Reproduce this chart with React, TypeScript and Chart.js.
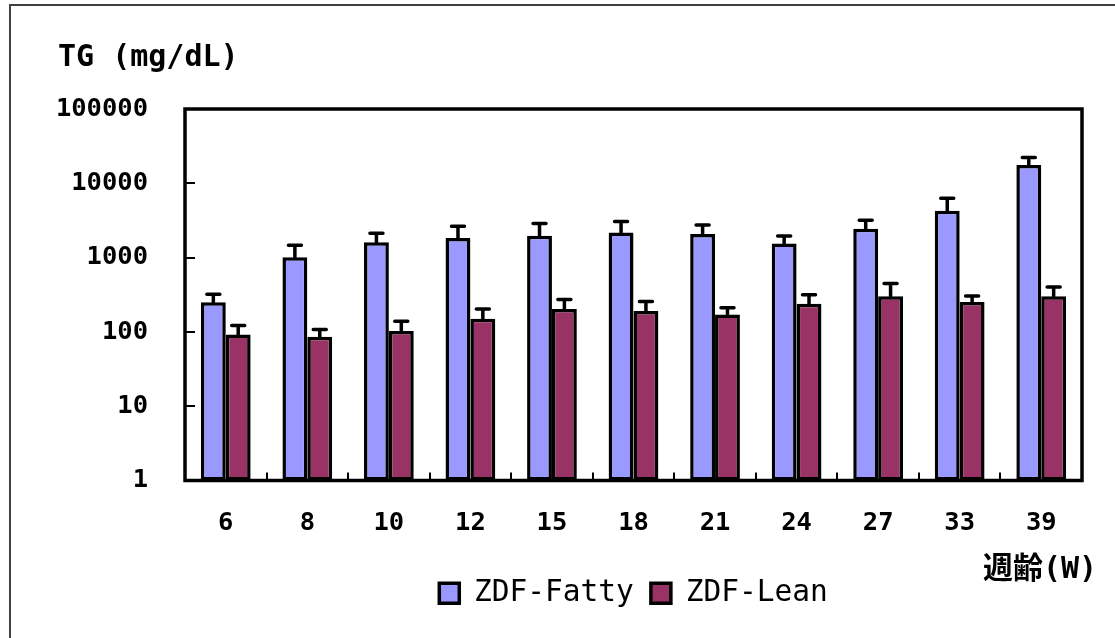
import React, { useEffect, useRef } from "react";
import { Chart, registerables } from "chart.js";

Chart.register(...registerables);

const weeks = ["6", "8", "10", "12", "15", "18", "21", "24", "27", "33", "39"];
const fattyMean = [251, 1012, 1612, 1830, 1970, 2180, 2070, 1550, 2440, 4260, 17600];
const fattySD = [70, 458, 518, 810, 900, 890, 670, 400, 730, 2040, 4700];
const leanMean = [92, 86, 103, 150, 203, 191, 171, 240, 302, 253, 302];
const leanSD = [30, 22, 36, 53, 69, 66, 41, 77, 146, 51, 100];
const yTicks = [1, 10, 100, 1000, 10000, 100000];
const seriesNames = ["ZDF-Fatty", "ZDF-Lean"];
const yTitle = "TG (mg/dL)";
const xTitle = "週齢(W)";

const FONT = "'DejaVu Sans Mono', 'Noto Sans CJK JP', monospace";

const errorBarPlugin = {
  id: "errorBars",
  afterDatasetsDraw(chart: any) {
    const ctx = chart.ctx;
    const yScale = chart.scales.y;
    const sds = [fattySD, leanSD];
    const means = [fattyMean, leanMean];
    ctx.save();
    ctx.strokeStyle = "#000";
    ctx.lineWidth = 3.5;
    ctx.lineCap = "round";
    chart.data.datasets.forEach((_ds: any, di: number) => {
      const meta = chart.getDatasetMeta(di);
      meta.data.forEach((bar: any, i: number) => {
        const top = yScale.getPixelForValue(means[di][i] + sds[di][i]);
        const x = bar.x;
        ctx.beginPath();
        ctx.moveTo(x, bar.y);
        ctx.lineTo(x, top);
        ctx.moveTo(x - 6.5, top);
        ctx.lineTo(x + 6.5, top);
        ctx.stroke();
      });
    });
    ctx.restore();
  },
};

const framePlugin = {
  id: "frame",
  beforeDraw(chart: any) {
    const ctx = chart.ctx;
    ctx.save();
    ctx.fillStyle = "#fff";
    ctx.fillRect(0, 0, chart.width, chart.height);
    ctx.strokeStyle = "#404040";
    ctx.lineWidth = 2;
    ctx.beginPath();
    ctx.moveTo(10, chart.height);
    ctx.lineTo(10, 5);
    ctx.lineTo(chart.width, 5);
    ctx.stroke();
    ctx.restore();
  },
  afterDraw(chart: any) {
    const ctx = chart.ctx;
    const a = chart.chartArea;
    const yScale = chart.scales.y;
    ctx.save();
    ctx.strokeStyle = "#000";
    ctx.lineWidth = 3.5;
    ctx.strokeRect(a.left, a.top, a.right - a.left, a.bottom - a.top);
    ctx.lineWidth = 2;
    ctx.beginPath();
    yTicks.forEach((v) => {
      if (v === yTicks[0] || v === yTicks[yTicks.length - 1]) return;
      const y = Math.round(yScale.getPixelForValue(v));
      ctx.moveTo(a.left, y);
      ctx.lineTo(a.left + 10, y);
    });
    const n = weeks.length;
    const w = (a.right - a.left) / n;
    for (let k = 1; k < n; k++) {
      const x = Math.round(a.left + k * w);
      ctx.moveTo(x, a.bottom);
      ctx.lineTo(x, a.bottom - 8);
    }
    ctx.stroke();
    ctx.fillStyle = "#000";
    ctx.textBaseline = "alphabetic";
    ctx.textAlign = "left";
    ctx.font = `bold 30px ${FONT}`;
    ctx.fillText(yTitle, 58, 66);
    ctx.fillText(xTitle, 983, 578);
    ctx.restore();
  },
};

export default function App() {
  const ref = useRef<HTMLCanvasElement | null>(null);
  useEffect(() => {
    if (!ref.current) return;
    const chart = new Chart(ref.current, {
      type: "bar",
      data: {
        labels: weeks,
        datasets: [
          {
            label: seriesNames[0],
            data: fattyMean,
            backgroundColor: "#9999FF",
            borderColor: "#000",
            borderWidth: 3.5,
            borderSkipped: false,
          },
          {
            label: seriesNames[1],
            data: leanMean,
            backgroundColor: "#993366",
            borderColor: "#000",
            borderWidth: 3.5,
            borderSkipped: false,
          },
        ],
      },
      options: {
        responsive: false,
        animation: false,
        devicePixelRatio: 1,
        layout: { padding: { left: 0, top: 109, right: 33, bottom: 20 } },
        datasets: { bar: { categoryPercentage: 0.61, barPercentage: 1.0 } },
        plugins: {
          legend: {
            position: "bottom",
            fullSize: false,
            labels: {
              color: "#000",
              font: { family: FONT, size: 29.5 },
              boxWidth: 20,
              boxHeight: 20,
              padding: 17,
            },
          },
          tooltip: { enabled: false },
        },
        scales: {
          x: {
            grid: { display: false, drawTicks: false },
            border: { display: false },
            ticks: {
              color: "#000",
              padding: 28,
              font: { family: FONT, size: 25.5, weight: "bold" },
              maxRotation: 0,
            },
            afterFit(scale: any) {
              scale.height = 81;
            },
          },
          y: {
            type: "logarithmic",
            min: 1,
            max: 100000,
            grid: { display: false, drawTicks: false },
            border: { display: false },
            afterBuildTicks(scale: any) {
              scale.ticks = yTicks.map((v) => ({ value: v }));
            },
            ticks: {
              color: "#000",
              padding: 37,
              font: { family: FONT, size: 25.5, weight: "bold" },
              callback: (v: any) => String(v),
            },
            afterFit(scale: any) {
              scale.width = 185;
            },
          },
        },
      },
      plugins: [framePlugin, errorBarPlugin],
    });
    return () => chart.destroy();
  }, []);
  return (
    <div style={{ position: "fixed", left: 0, top: 0, width: 1115, height: 638, background: "#fff" }}>
      <canvas ref={ref} width={1115} height={638} />
    </div>
  );
}
